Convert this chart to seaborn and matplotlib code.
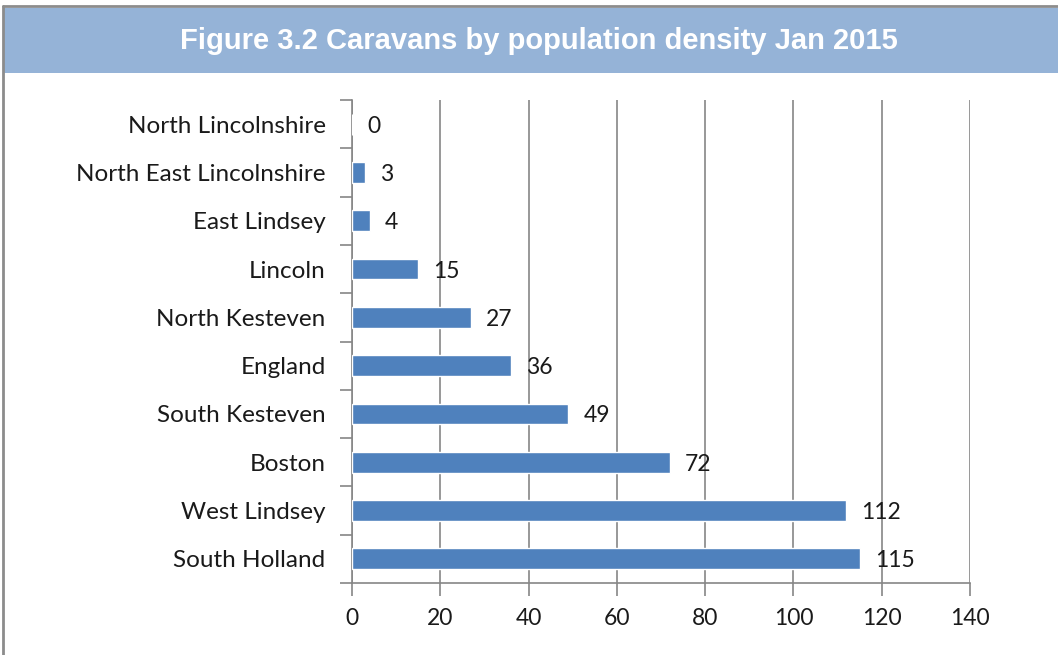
import matplotlib
matplotlib.use("Agg")
import matplotlib.pyplot as plt
import seaborn as sns
import pandas as pd
import numpy as np
from matplotlib.patches import Rectangle
from matplotlib.lines import Line2D

categories = ["North Lincolnshire", "North East Lincolnshire", "East Lindsey", "Lincoln",
              "North Kesteven", "England", "South Kesteven", "Boston", "West Lindsey",
              "South Holland"]
values = [0, 3, 4, 15, 27, 36, 49, 72, 112, 115]
xticks = [0, 20, 40, 60, 80, 100, 120, 140]
title = "Figure 3.2 Caravans by population density Jan 2015"

sns.set_theme(style="white")
plt.rcParams['font.family'] = ['Lato', 'DejaVu Sans']

df = pd.DataFrame({"area": categories, "value": values})

fig = plt.figure(figsize=(10.58, 6.55), dpi=100)
W, H = 1058, 655

# banner and frame
fig.patches.append(Rectangle((4 / W, 1 - 73 / H), 1 - 4 / W, 65 / H, transform=fig.transFigure,
                             facecolor="#95B3D7", edgecolor="none", zorder=0))
fig.lines.append(Line2D([2.5 / W, 1], [1 - 6 / H, 1 - 6 / H], transform=fig.transFigure,
                        color="#8C8C8C", lw=2))
fig.lines.append(Line2D([2.5 / W, 2.5 / W], [0, 1 - 6 / H], transform=fig.transFigure,
                        color="#8C8C8C", lw=2))
fig.text(539 / W, 1 - 41 / H, title, ha="center", va="center", color="white",
         fontsize=21, fontweight="bold", family=["Liberation Sans", "DejaVu Sans"])

ax = fig.add_axes([352 / W, 1 - 583 / H, 618 / W, 483 / H])
sns.barplot(data=df, x="value", y="area", order=categories, orient="h",
            color="#4F81BD", saturation=1, width=0.43, ax=ax, zorder=3)

ax.set_xlim(0, 140)
ax.set_ylim(len(categories) - 0.5, -0.5)
ax.set_xticks(xticks)
ax.set_xticklabels([str(t) for t in xticks], fontsize=16.5, color="#1a1a1a")
ax.set_xlabel("")
ax.set_ylabel("")
ax.tick_params(axis="y", labelsize=17.5, labelcolor="#1a1a1a", length=0, pad=19)
ax.set_yticks(np.arange(-0.5, len(categories), 1), minor=True)
ax.tick_params(axis="y", which="minor", length=9, color="#868686", width=1.2, left=True)
ax.tick_params(axis="x", length=9, color="#868686", width=1.2, bottom=True, pad=9)
ax.grid(axis="x", color="#868686", lw=1.2, zorder=0)
ax.set_axisbelow(True)
for s in ["top", "right"]:
    ax.spines[s].set_visible(False)
for s in ["left", "bottom"]:
    ax.spines[s].set_color("#868686")
    ax.spines[s].set_linewidth(1.2)

for i, v in enumerate(values):
    ax.annotate(str(v), xy=(v, i), xytext=(15, -2), textcoords="offset pixels",
                ha="left", va="center", fontsize=16.5, color="#1a1a1a", zorder=4)

fig.savefig("out.png", dpi=100)
